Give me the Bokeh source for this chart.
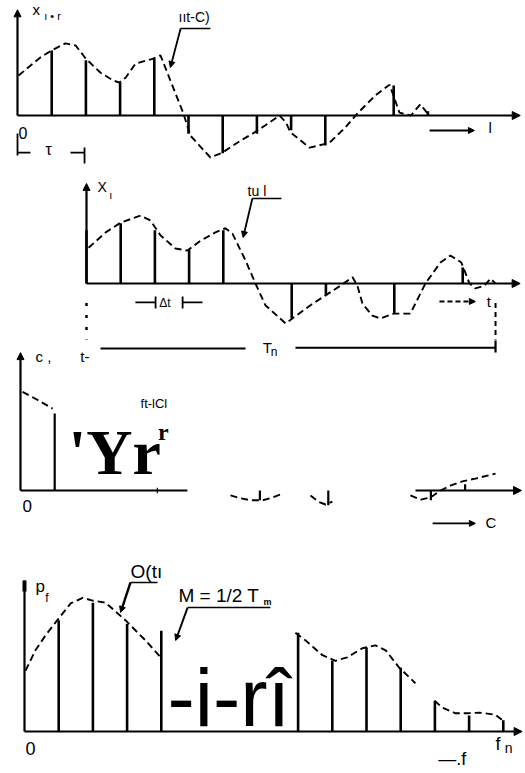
from bokeh.plotting import figure
from bokeh.layouts import column
from bokeh.models import Range1d, Arrow, NormalHead, Label
from bokeh.embed import file_html
from bokeh.resources import INLINE

# ---------------- data ----------------
# panel 1: shifted record x(t+tau), sampled every dt
p1_k = [1, 2, 3, 4, 5, 6, 7, 8, 9, 10, 11, 12]
p1_v = [0.93, 0.79, 0.47, 0.81, -0.26, -0.54, -0.26, -0.21, -0.43, 0.0, 0.43, 0.06]
p1_ct = [0.03, 0.67, 1.0, 1.4, 1.7, 2.0, 2.43, 2.8, 2.98, 3.16, 3.45, 3.95, 4.18, 4.47, 4.85,
         5.06, 5.64, 5.99, 6.52, 6.87, 7.25, 7.66, 7.85, 7.98, 8.54, 9.12, 9.59, 9.94, 10.47,
         10.88, 11.17, 11.5, 11.78, 11.99]
p1_cv = [0.57, 0.83, 0.93, 1.03, 1.0, 0.81, 0.61, 0.5, 0.47, 0.54, 0.74, 0.81, 0.86, 0.5, 0.03,
         -0.29, -0.6, -0.53, -0.36, -0.26, -0.14, 0.0, -0.1, -0.24, -0.46, -0.39, -0.17, 0.03, 0.29,
         0.44, 0.04, 0.0, 0.16, 0.03]

# panel 2: record x(t)
p2_k = [0, 1, 2, 3, 4, 6, 7, 9, 11]
p2_v = [0.76, 0.86, 0.76, 0.49, 0.76, -0.5, -0.17, -0.43, 0.23]
p2_ct = [0.06, 0.56, 1.0, 1.58, 1.87, 2.16, 2.6, 2.95, 3.33, 3.77, 4.06, 4.27, 4.65, 4.94, 5.23,
         5.82, 6.02, 6.55, 6.99, 7.43, 7.78, 7.92, 8.07, 8.36, 8.6, 8.98, 9.47, 9.91, 10.35, 10.64,
         10.96, 11.2, 11.37, 11.64, 11.81, 11.96]
p2_cv = [0.51, 0.73, 0.87, 0.97, 0.9, 0.69, 0.5, 0.47, 0.61, 0.73, 0.79, 0.71, 0.33, 0.0, -0.31,
         -0.57, -0.5, -0.31, -0.17, -0.03, 0.09, -0.03, -0.29, -0.46, -0.5, -0.43, -0.43, 0.0, 0.3, 0.4,
         0.3, 0.0, -0.07, -0.03, 0.07, 0.0]

# panel 3: correlation function C(tau) (partly visible)
p3_k = [1, 7, 9, 12, 13]
p3_v = [1.1, -0.14, -0.21, -0.14, 0.09]
p3_seg_t = [[0.06, 0.44, 0.94],
            [6.14, 6.43, 6.73, 7.08, 7.37, 7.69],
            [8.48, 8.71, 8.92, 9.12],
            [11.4, 11.7, 11.99, 12.28, 12.57, 12.92, 13.3, 13.89]]
p3_seg_v = [[1.41, 1.31, 1.17],
            [-0.07, -0.11, -0.14, -0.14, -0.1, -0.04],
            [-0.07, -0.16, -0.2, -0.16],
            [-0.07, -0.13, -0.1, 0.0, 0.07, 0.13, 0.17, 0.24]]

# panel 4: power spectrum P(f)
p4_k = [1, 2, 3, 4, 8, 9, 10, 11, 12, 13, 14]
p4_v = [1.59, 1.84, 1.54, 1.44, 1.41, 1.01, 1.2, 0.91, 0.44, 0.23, 0.16]
p4_seg_f = [[0.03, 0.32, 0.61, 0.99, 1.35, 1.7, 1.99, 2.37, 2.95, 3.54, 3.98],
            [7.92, 8.22, 8.71, 9.09, 9.44, 9.88, 10.26, 10.56, 10.96, 11.43],
            [11.99, 12.22, 12.6, 12.95, 13.3, 13.77, 13.98]]
p4_seg_v = [[0.87, 1.16, 1.37, 1.61, 1.83, 1.91, 1.87, 1.84, 1.59, 1.3, 1.06],
            [1.41, 1.3, 1.09, 1.01, 1.06, 1.19, 1.23, 1.16, 0.91, 0.69],
            [0.44, 0.34, 0.26, 0.26, 0.27, 0.24, 0.16]]

# ---------------- layout helpers ----------------
W = 523
DX = 34.2   # px per sample step
DY = 70.0   # px per value unit
SANS = "Liberation Sans"
SERIF = "Liberation Serif"


def make_fig(h, x0_px, base_px, top_px):
    p = figure(width=W, height=h,
               x_range=Range1d((0 - x0_px) / DX, (W - x0_px) / DX),
               y_range=Range1d(-(top_px + h - base_px) / DY, (base_px - top_px) / DY),
               x_axis_type=None, y_axis_type=None, toolbar_location=None,
               output_backend="svg", min_border=0)
    p.outline_line_color = None
    p.background_fill_color = "white"
    p.border_fill_color = "white"
    return p


def lab(p, x, y, text, size, font=SANS, style="normal"):
    # y is the wanted baseline; compensate the renderer's baseline offset
    p.add_layout(Label(x=x, y=y + 0.37 * size / DY, text=text, text_font=font,
                       text_font_size=f"{size}px", text_font_style=style, text_color="black",
                       text_baseline="alphabetic", text_align="left"))


def arrow(p, xs, ys, xe, ye, size=8, width=2.0, dash="solid"):
    p.add_layout(Arrow(end=NormalHead(size=size, fill_color="black", line_color="black", line_width=1),
                       x_start=xs, y_start=ys, x_end=xe, y_end=ye,
                       line_width=width, line_color="black", line_dash=dash))


def seg(p, x0, y0, x1, y1, width=2.0, dash="solid"):
    p.line([x0, x1], [y0, y1], line_width=width, line_color="black", line_dash=dash)


def stems(p, k, v, width=2.6):
    p.segment(x0=k, y0=[0] * len(k), x1=k, y1=v, line_width=width, line_color="black")


CURVE = dict(line_width=1.9, line_color="black", line_dash="7 4")

# ---------------- panel 1 ----------------
p1 = make_fig(170, 17, 115, 0)
arrow(p1, 0, 0, 0, 1.51, size=7, width=2.2)
arrow(p1, 0, 0, 14.7, 0, size=8, width=2.0)
stems(p1, p1_k, p1_v)
p1.line(p1_ct, p1_cv, **CURVE)
lab(p1, 0.44, 1.43, "x", 15)
lab(p1, 0.78, 1.36, "ı • r", 11)
lab(p1, 4.71, 1.33, "ııt-C)", 14)
p1.line([5.64, 4.77], [1.243, 1.243], line_width=1.6, line_color="black")
arrow(p1, 4.77, 1.243, 4.47, 0.686, size=6, width=1.8)
lab(p1, 0.03, -0.33, "0", 16)
seg(p1, 0, -0.257, 0, -0.571, 1.8)
seg(p1, 0, -0.529, 0.38, -0.529, 1.8)
lab(p1, 0.82, -0.571, "τ", 16)
seg(p1, 1.55, -0.529, 1.96, -0.529, 1.8)
seg(p1, 1.96, -0.457, 1.96, -0.686, 1.8)
arrow(p1, 12.05, -0.214, 13.36, -0.214, size=6, width=1.8)
lab(p1, 13.77, -0.257, "l", 15)

# ---------------- panel 2 ----------------
p2 = make_fig(170, 86, 283, 170)
arrow(p2, 0, 0, 0, 1.43, size=7, width=2.2)
arrow(p2, 0, 0, 12.68, 0, size=8, width=2.0)
stems(p2, p2_k, p2_v)
p2.line(p2_ct, p2_cv, **CURVE)
lab(p2, 0.32, 1.3, "X", 14)
lab(p2, 0.67, 1.21, "ι", 11)
lab(p2, 4.71, 1.243, "tu l", 14)
p2.line([5.7, 4.85], [1.214, 1.214], line_width=1.6, line_color="black")
arrow(p2, 4.85, 1.214, 4.58, 0.657, size=6, width=1.8)
seg(p2, 1.43, -0.271, 2.02, -0.271, 1.8)
seg(p2, 2.02, -0.186, 2.02, -0.357, 1.8)
lab(p2, 2.13, -0.343, "Δt", 12)
seg(p2, 2.81, -0.186, 2.81, -0.357, 1.8)
seg(p2, 2.81, -0.271, 3.39, -0.271, 1.8)
arrow(p2, 10.32, -0.257, 11.37, -0.257, size=6, width=1.8, dash="5 3")
lab(p2, 11.7, -0.343, "t", 15)
seg(p2, 0, -0.28, 0, -0.8, 2.5, dash="3 9")
seg(p2, 11.96, -0.28, 11.96, -0.8, 2.0, dash="5 4")

# ---------------- panel 3 ----------------
p3 = make_fig(196, 20, 490, 340)
arrow(p3, 0, 0, 0, 1.97, size=7, width=2.2)
seg(p3, 0, 0, 4.88, 0, 2.2)
seg(p3, 4.0, -0.04, 4.0, 0.04, 1.2)
arrow(p3, 11.55, 0, 14.65, 0, size=8, width=2.0)
stems(p3, p3_k, p3_v, width=2.2)
for ts, vs in zip(p3_seg_t, p3_seg_v):
    p3.line(ts, vs, **CURVE)
lab(p3, 0.44, 1.83, "c ,", 15)
lab(p3, 1.75, 1.83, "t-", 15)
seg(p3, 2.34, 2.03, 6.58, 2.03, 2.0)
lab(p3, 7.08, 1.97, "T", 15)
lab(p3, 7.32, 1.91, "n", 12)
seg(p3, 8.04, 2.04, 13.89, 2.04, 2.0)
seg(p3, 13.89, 1.97, 13.89, 2.17, 2.2)
lab(p3, 3.51, 1.17, "ft-lCl", 13)
lab(p3, 1.4, 0.21, "'Yr", 64, font=SERIF, style="bold")
lab(p3, 4.02, 0.71, "r", 24, font=SERIF, style="bold")
arrow(p3, 12.05, -0.47, 13.3, -0.47, size=6, width=1.8)
lab(p3, 13.6, -0.53, "C", 15)
lab(p3, 0.06, -0.31, "0", 17)

# ---------------- panel 4 ----------------
p4 = make_fig(235, 24, 731, 536)
seg(p4, 0, 0, 0, 2.157, 2.2)
seg(p4, 0, 2.0, 0, 2.157, 4.0)
arrow(p4, 0, 0, 14.55, 0, size=8, width=2.0)
stems(p4, p4_k, p4_v)
for fs, vs in zip(p4_seg_f, p4_seg_v):
    p4.line(fs, vs, **CURVE)
lab(p4, 0.32, 1.986, "p", 17)
lab(p4, 0.61, 1.843, "f", 12)
lab(p4, 0.03, -0.343, "0", 18)
lab(p4, 3.1, 2.186, "O(tı", 19)
p4.line([3.89, 3.1], [2.129, 2.129], line_width=1.6, line_color="black")
arrow(p4, 3.1, 2.129, 2.81, 1.7, size=6, width=2.4)
lab(p4, 4.5, 1.843, "M = 1/2 T", 19)
lab(p4, 6.99, 1.8, "m", 9, style="bold")
p4.line([7.19, 4.77], [1.771, 1.771], line_width=1.6, line_color="black")
arrow(p4, 4.77, 1.771, 4.42, 1.3, size=6, width=2.0)
lab(p4, 4.18, 0.057, "-i-rî", 82)
lab(p4, 13.77, -0.271, "f", 18)
lab(p4, 14.04, -0.314, "n", 14)
lab(p4, 12.1, -0.49, "—.f", 18)

layout = column(p1, p2, p3, p4, spacing=0)
open("out.html", "w").write(file_html(layout, INLINE))
